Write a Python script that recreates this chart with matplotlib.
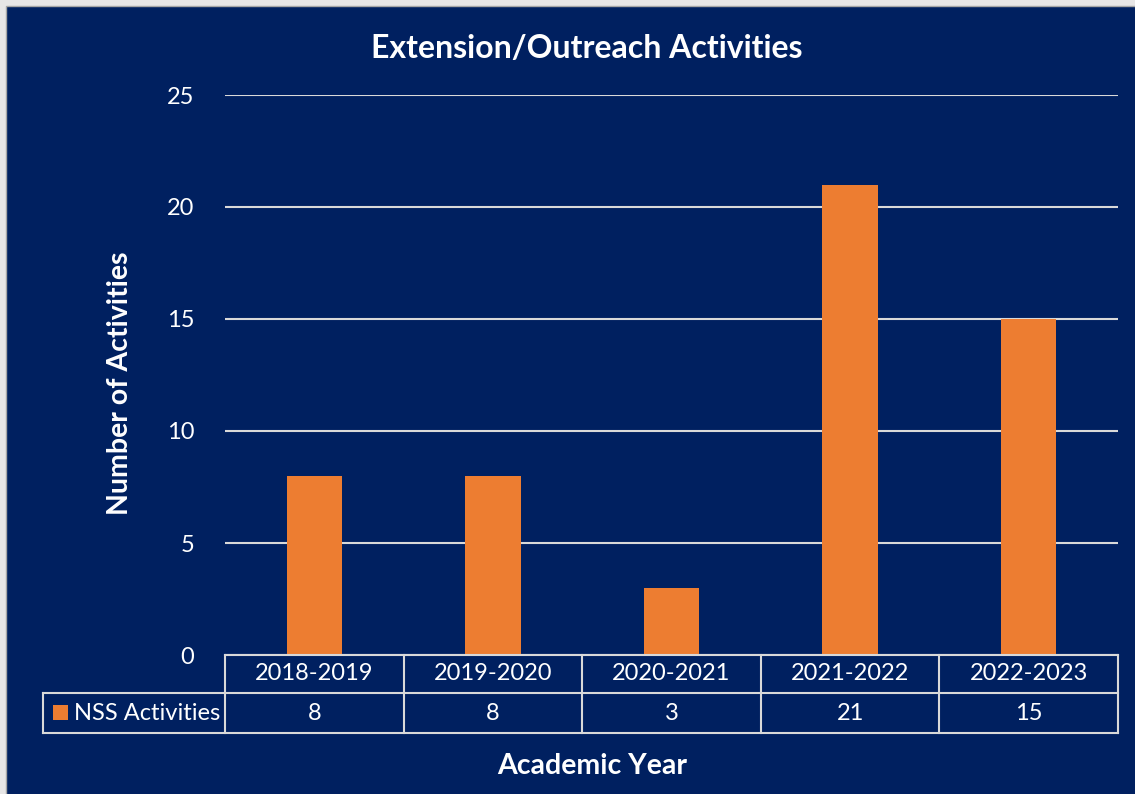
import matplotlib
matplotlib.use("Agg")
import matplotlib.pyplot as plt
import matplotlib.patches as patches
import matplotlib.transforms as mtransforms
from matplotlib.lines import Line2D

years = ["2018-2019", "2019-2020", "2020-2021", "2021-2022", "2022-2023"]
nss_activities = [8, 8, 3, 21, 15]
series_name = "NSS Activities"
yticks = [0, 5, 10, 15, 20, 25]

NAVY = "#002060"
ORANGE = "#ED7D31"
GRID = "#D9D9D9"
W, H = 1135, 794

plt.rcParams["font.family"] = ["Lato", "DejaVu Sans"]

fig = plt.figure(figsize=(W / 100, H / 100), dpi=100, facecolor="#E7E6E6")
# navy chart area with thin frame (left/top margin visible only)
fig.add_artist(patches.Rectangle((6 / W, -0.01), 1.1, (H - 6) / H + 0.01,
                                 transform=fig.transFigure, facecolor=NAVY,
                                 edgecolor="#A6A6A6", linewidth=1, zorder=-10))

ax = fig.add_axes([225 / W, 1 - 655 / H, (1118 - 225) / W, (655 - 95) / H])
ax.set_facecolor(NAVY)
x = list(range(len(years)))
ax.bar(x, nss_activities, width=0.31, color=ORANGE, zorder=3)
ax.set_xlim(-0.5, len(years) - 0.5)
ax.set_ylim(0, 25)
ax.set_yticks(yticks)
ax.set_xticks([])
ax.yaxis.grid(True, color=GRID, linewidth=1.5, zorder=0)
ax.tick_params(axis="y", length=0, pad=22, labelsize=17, labelcolor="white")
for s in ax.spines.values():
    s.set_visible(False)

fig.text(587 / W, 1 - 48 / H, "Extension/Outreach Activities", color="white",
         fontsize=23, fontweight="bold", ha="center", va="center")
fig.text(120 / W, 1 - 383 / H, "Number of Activities", color="white",
         fontsize=20.5, fontweight="bold", ha="center", va="center", rotation=90)
fig.text(592 / W, 1 - 766 / H, "Academic Year", color="white",
         fontsize=20.5, fontweight="bold", ha="center", va="center")

# data table below the axis
tr = mtransforms.blended_transform_factory(ax.transData, ax.transAxes)
ppu = (1118 - 225) / len(years)
left_x = -0.5 - (225 - 43) / ppu
r1 = -(693 - 655) / 560
r2 = -(733 - 655) / 560
lw = 1.5


def tline(xs, ys):
    ax.add_line(Line2D(xs, ys, transform=tr, color=GRID, linewidth=lw,
                       clip_on=False, zorder=5))


tline([-0.5, len(years) - 0.5], [0, 0])
tline([left_x, len(years) - 0.5], [r1, r1])
tline([left_x, len(years) - 0.5], [r2, r2])
for i in range(len(years) + 1):
    tline([i - 0.5, i - 0.5], [0, r2])
tline([left_x, left_x], [r1, r2])

for i, (yr, v) in enumerate(zip(years, nss_activities)):
    ax.text(i, r1 / 2, yr, transform=tr, color="white", fontsize=17,
            ha="center", va="center", clip_on=False)
    ax.text(i, (r1 + r2) / 2, str(v), transform=tr, color="white", fontsize=17,
            ha="center", va="center", clip_on=False)

fig.add_artist(patches.Rectangle((53 / W, 1 - 720 / H), 15 / W, 15 / H,
                                 transform=fig.transFigure, facecolor=ORANGE,
                                 edgecolor="none"))
fig.text(74 / W, 1 - 713 / H, series_name, color="white", fontsize=17,
         ha="left", va="center")

fig.savefig("out.png", dpi=100, facecolor=fig.get_facecolor())
